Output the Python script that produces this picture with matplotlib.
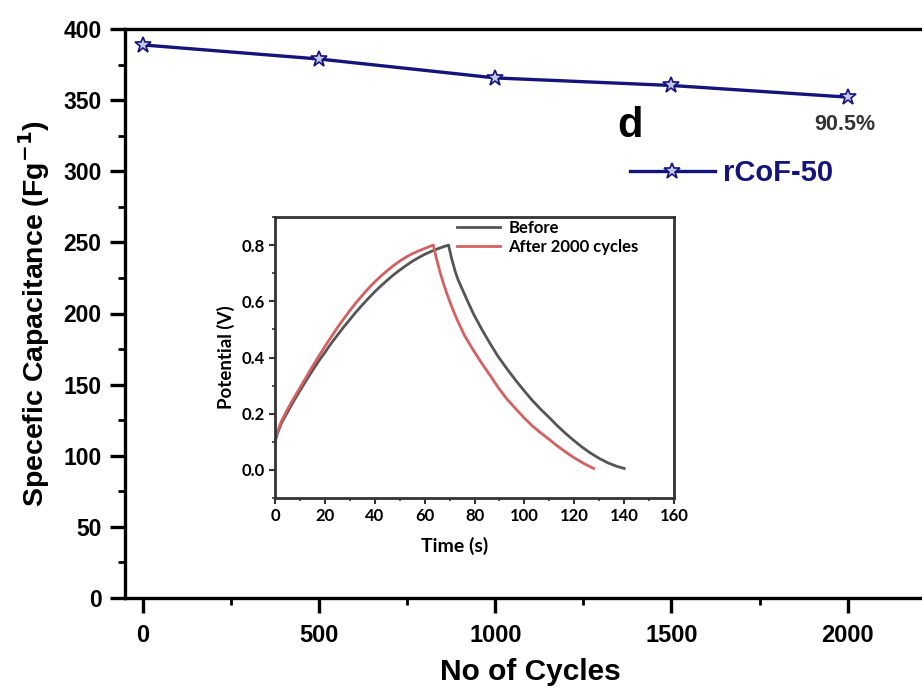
import matplotlib
matplotlib.use("Agg")
import matplotlib.pyplot as plt
from matplotlib.ticker import MultipleLocator

# ---- main data ----
cycles = [0, 500, 1000, 1500, 2000]
capacitance = [388.8, 378.9, 365.6, 360.3, 352.1]
series_label = "rCoF-50"
retention_text = "90.5%"
panel_letter = "d"

# ---- inset GCD data ----
before_t = [0, 1, 2.5, 5, 7.5, 10, 12.5, 15, 17.5, 20, 22.5, 25, 27.5, 30, 32.5, 35, 37.5, 40,
            42.5, 45, 47.5, 50, 52.5, 55, 57.5, 60, 62.5, 65, 67.5, 69.6,
            70.1, 70.9, 72.3, 73.5, 75, 77, 79.6, 83, 86.3, 89.5, 93, 96.5, 99.7, 103, 106.4,
            110, 113.1, 116.5, 119.8, 123, 126.5, 130, 133.5, 137, 140]
before_v = [0.10, 0.13, 0.165, 0.205, 0.245, 0.282, 0.318, 0.353, 0.387, 0.418, 0.45, 0.479, 0.508,
            0.535, 0.562, 0.587, 0.611, 0.634, 0.655, 0.675, 0.694, 0.711, 0.727, 0.742, 0.755, 0.767,
            0.777, 0.786, 0.794, 0.80,
            0.78, 0.75, 0.705, 0.675, 0.645, 0.605, 0.555, 0.499, 0.449, 0.403, 0.36, 0.319, 0.284,
            0.249, 0.217, 0.186, 0.158, 0.13, 0.105, 0.082, 0.06, 0.041, 0.025, 0.013, 0.005]
after_t = [0, 1, 2.5, 5, 7.5, 10, 12.5, 15, 17.5, 20, 22.5, 25, 27.5, 30, 32.5, 35, 37.5, 40,
           42.5, 45, 47.5, 50, 52.5, 55, 57.5, 60, 62, 63.5,
           64.0, 64.8, 66.3, 67.5, 69, 71, 73, 76, 79.6, 83, 86.3, 89.5, 93, 96.5, 99.7, 103,
           106.4, 110, 113.1, 116.5, 119.8, 124, 127.8]
after_v = [0.10, 0.135, 0.172, 0.215, 0.255, 0.292, 0.33, 0.368, 0.404, 0.439, 0.473, 0.506, 0.537,
           0.567, 0.595, 0.621, 0.646, 0.669, 0.69, 0.709, 0.727, 0.743, 0.757, 0.769, 0.779, 0.788,
           0.795, 0.80,
           0.78, 0.75, 0.70, 0.665, 0.625, 0.578, 0.535, 0.478, 0.425, 0.378, 0.336, 0.293, 0.252,
           0.218, 0.187, 0.158, 0.133, 0.108, 0.086, 0.064, 0.044, 0.022, 0.005]
before_label = "Before"
after_label = "After 2000 cycles"

W, H = 922, 691
fig = plt.figure(figsize=(W / 100, H / 100), dpi=100)

def fx(px):
    return px / W

def fy(py):
    return 1 - py / H

main_font = "Liberation Sans"
navy = "#14147a"

ax = fig.add_axes([fx(125), fy(598), fx(922) - fx(125), fy(29) - fy(598)])
ax.plot(cycles, capacitance, color=navy, lw=2.4, marker="*", ms=12,
        mfc="#c8c8ee", mec=navy, mew=1.2, label=series_label, zorder=3)
ax.set_xlim(-51, 2211)
ax.set_ylim(0, 400)
ax.xaxis.set_major_locator(MultipleLocator(500))
ax.xaxis.set_minor_locator(MultipleLocator(250))
ax.yaxis.set_major_locator(MultipleLocator(50))
ax.yaxis.set_minor_locator(MultipleLocator(25))
for s in ["left", "bottom", "top"]:
    ax.spines[s].set_linewidth(2.4)
ax.spines["right"].set_visible(False)
ax.tick_params(which="major", direction="out", length=11, width=2.4, top=False, right=False)
ax.tick_params(which="minor", direction="out", length=5, width=2.0, top=False, right=False)
ax.tick_params(axis="y", which="major", pad=6)
ax.tick_params(axis="x", which="major", pad=8)
for lab in ax.get_yticklabels():
    lab.set_fontfamily(main_font); lab.set_fontweight("bold"); lab.set_fontsize(16.5)
for lab in ax.get_xticklabels():
    lab.set_fontfamily(main_font); lab.set_fontweight("bold"); lab.set_fontsize(17)
ax.set_xlabel("No of Cycles", fontfamily=main_font, fontweight="bold", fontsize=21.5, va="center")
ax.xaxis.set_label_coords(0.509, -0.13)
ax.set_ylabel("Specefic Capacitance (Fg$^{\\mathbf{-1}}$)", fontfamily=main_font,
              fontweight="bold", fontsize=20.5, labelpad=8)

fig.text(fx(630), fy(126), panel_letter, fontfamily=main_font, fontweight="bold",
         fontsize=30, ha="center", va="center", color="black")
fig.text(fx(845), fy(125), retention_text, fontfamily=main_font, fontweight="bold",
         fontsize=15.5, ha="center", va="center", color="#333333")

ax.legend(loc="center left", bbox_to_anchor=(fx(630), fy(173)), bbox_transform=fig.transFigure,
          frameon=False, borderpad=0, borderaxespad=0, handlelength=2.9, handletextpad=0.3,
          prop={"family": main_font, "weight": "bold", "size": 21}, labelcolor=navy)

# ---- inset ----
inset_font = ["Lato", "DejaVu Sans"]
ia = fig.add_axes([fx(275), fy(498), fx(674) - fx(275), fy(217) - fy(498)])
ia.plot(before_t, before_v, color="#555555", lw=2.0, label=before_label)
ia.plot(after_t, after_v, color="#d46060", lw=2.0, label=after_label)
ia.set_xlim(0, 160)
ia.set_ylim(-0.1, 0.9)
ia.xaxis.set_major_locator(MultipleLocator(20))
ia.xaxis.set_minor_locator(MultipleLocator(10))
ia.yaxis.set_minor_locator(MultipleLocator(0.1))
ia.set_yticks([0.0, 0.2, 0.4, 0.6, 0.8])
ia.set_yticklabels(["0.0", "0.2", "0.4", "0.6", "0.8"])
for s in ia.spines.values():
    s.set_linewidth(2.0)
    s.set_color("#333333")
ia.tick_params(which="major", direction="out", length=4, width=1.5, color="#333333", pad=3)
ia.tick_params(which="minor", direction="out", length=2.5, width=1.2, color="#333333")
for lab in ia.get_xticklabels() + ia.get_yticklabels():
    lab.set_fontfamily(inset_font); lab.set_fontweight("bold"); lab.set_fontsize(12)
ia.set_xlabel("Time (s)", fontfamily=inset_font, fontweight="bold", fontsize=14)
ia.xaxis.set_label_coords(0.45, -0.14)
ia.set_ylabel("Potential (V)", fontfamily=inset_font, fontweight="bold", fontsize=13.5, labelpad=5)
ia.legend(loc="upper left", bbox_to_anchor=(0.455, 0.99), frameon=False, borderpad=0,
          borderaxespad=0, handlelength=2.6, handletextpad=0.5, labelspacing=0.2,
          prop={"family": inset_font, "weight": "bold", "size": 12})

fig.savefig("out.png", dpi=100)
